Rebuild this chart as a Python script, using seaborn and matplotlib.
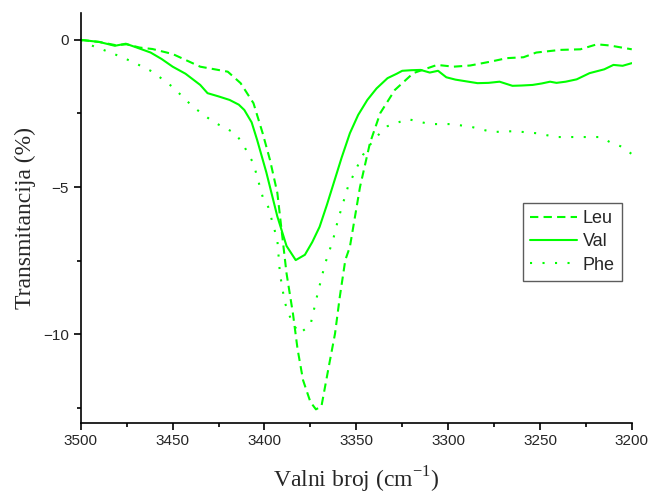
import numpy as np
import pandas as pd
import matplotlib
matplotlib.use("Agg")
import matplotlib.pyplot as plt
from matplotlib.ticker import MultipleLocator
import seaborn as sns

# --- data ---
leu_x = [3500, 3490, 3481, 3475, 3468, 3461, 3450, 3435, 3420, 3413, 3406, 3401,
         3397, 3393, 3388, 3384.5, 3382, 3379, 3375, 3372, 3369, 3365, 3361.6,
         3359, 3356, 3353.5, 3348, 3342.6, 3337, 3329, 3319, 3306, 3297, 3288,
         3277, 3268, 3259, 3252, 3239, 3228, 3219, 3212, 3200]
leu_y = [0.0, -0.07, -0.18, -0.15, -0.26, -0.31, -0.48, -0.91, -1.08, -1.47, -2.15, -3.17,
         -4.08, -5.2, -7.93, -9.3, -10.5, -11.56, -12.3, -12.55, -12.45, -11.1, -9.98,
         -8.73, -7.48, -7.03, -5.0, -3.51, -2.49, -1.7, -1.13, -0.85, -0.91, -0.87,
         -0.74, -0.62, -0.59, -0.43, -0.34, -0.32, -0.15, -0.19, -0.32]

val_x = [3500, 3490, 3481.5, 3475.5, 3470, 3462, 3456, 3450, 3443, 3435, 3431, 3425,
         3419, 3414, 3411, 3407, 3404, 3399, 3393, 3388, 3383, 3378, 3374, 3370,
         3366, 3363, 3358, 3353.5, 3349, 3344, 3339, 3333, 3328, 3325, 3320, 3315,
         3310, 3305.5, 3301, 3296, 3292, 3284, 3278, 3272, 3268, 3265, 3260, 3254,
         3249, 3244.5, 3241, 3236, 3230, 3223, 3215, 3210, 3205, 3200]
val_y = [0.0, -0.07, -0.2, -0.13, -0.25, -0.43, -0.65, -0.91, -1.15, -1.53, -1.81, -1.92,
         -2.04, -2.2, -2.38, -2.8, -3.4, -4.5, -6.0, -7.0, -7.48, -7.3, -6.87, -6.35,
         -5.6, -5.0, -4.0, -3.17, -2.55, -2.04, -1.65, -1.3, -1.15, -1.05, -1.03, -1.02,
         -1.11, -1.05, -1.27, -1.35, -1.39, -1.47, -1.46, -1.42, -1.5, -1.56, -1.55, -1.53,
         -1.48, -1.42, -1.46, -1.42, -1.34, -1.13, -1.0, -0.85, -0.88, -0.79]

phe_x = [3500, 3495, 3483, 3472, 3461, 3450, 3439, 3428, 3416, 3412, 3406, 3401,
         3398, 3393, 3391.6, 3389, 3385, 3381, 3375, 3371, 3367, 3362.7, 3360, 3354.6,
         3349.6, 3346.4, 3342.6, 3338, 3333, 3322, 3310, 3298, 3287, 3276, 3264, 3252,
         3241, 3229, 3217, 3212, 3205, 3200]
phe_y = [0.0, -0.17, -0.45, -0.74, -1.08, -1.6, -2.27, -2.78, -3.17, -3.51, -4.2, -5.33,
         -5.67, -6.8, -7.93, -8.91, -9.6, -9.97, -9.69, -8.6, -7.6, -6.8, -6.12, -5.0,
         -4.32, -3.91, -3.57, -3.23, -2.93, -2.69, -2.86, -2.86, -2.96, -3.13, -3.1, -3.17,
         -3.3, -3.3, -3.3, -3.47, -3.64, -3.88]

series_names = ["Leu", "Val", "Phe"]


def main():
    sns.set_style("ticks")
    plt.rcParams["font.family"] = ["Liberation Sans", "DejaVu Sans"]

    df = pd.concat([
        pd.DataFrame({"x": leu_x, "y": leu_y, "uzorak": "Leu"}),
        pd.DataFrame({"x": val_x, "y": val_y, "uzorak": "Val"}),
        pd.DataFrame({"x": phe_x, "y": phe_y, "uzorak": "Phe"}),
    ], ignore_index=True)

    green = "#00ff00"
    styles = {"Leu": (0, (4, 2.5)), "Val": "-", "Phe": (0, (1, 5))}

    fig = plt.figure(figsize=(6.52, 4.96), dpi=100)
    ax = fig.add_axes([0.124, 0.148, 0.845, 0.825])

    for name in series_names:
        sub = df[df["uzorak"] == name]
        sns.lineplot(data=sub, x="x", y="y", ax=ax, color=green, lw=1.5,
                     linestyle=styles[name], label=name, sort=False,
                     estimator=None)

    ax.set_xlim(3500, 3200)
    ax.set_ylim(-13.0, 0.9)
    ax.xaxis.set_major_locator(MultipleLocator(50))
    ax.xaxis.set_minor_locator(MultipleLocator(25))
    ax.yaxis.set_major_locator(MultipleLocator(5))
    ax.yaxis.set_minor_locator(MultipleLocator(2.5))
    ax.tick_params(which="major", direction="out", length=5, width=1.2,
                   labelsize=11, color="black")
    ax.tick_params(which="minor", direction="out", length=3, width=1.2,
                   color="black")

    sns.despine(ax=ax)
    for side in ["left", "bottom"]:
        ax.spines[side].set_linewidth(1.2)
        ax.spines[side].set_color("black")

    ax.set_xlabel("Valni broj (cm$^{\\mathregular{-1}}$)",
                  family="Liberation Serif", fontsize=17, labelpad=12)
    ax.set_ylabel("Transmitancija (%)", family="Liberation Serif",
                  fontsize=17, labelpad=5)

    # legend box sits below the right-hand plateau
    leg = ax.legend(loc="upper left", bbox_to_anchor=(0.803, 0.537),
                    fontsize=13, frameon=True, fancybox=False,
                    edgecolor="#333333", handlelength=2.6, handletextpad=0.3,
                    borderpad=0.4, labelspacing=0.35, borderaxespad=0)
    leg.get_frame().set_linewidth(1.0)

    fig.savefig("out.png", dpi=100)


if __name__ == "__main__":
    main()
